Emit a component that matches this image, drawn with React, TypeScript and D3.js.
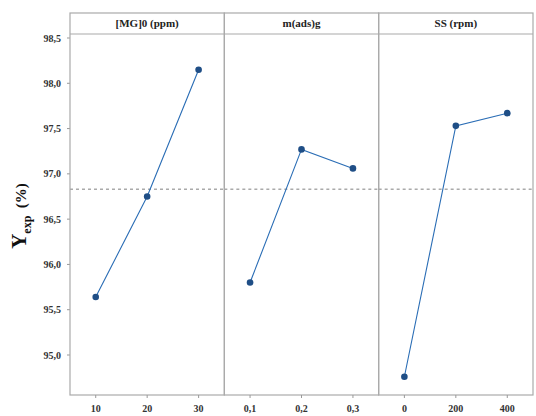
import React from "react";
import * as d3 from "d3";

const factorLabels = ["[MG]0 (ppm)", "m(ads)g", "SS (rpm)"];
const levelLabels = [
  ["10", "20", "30"],
  ["0,1", "0,2", "0,3"],
  ["0", "200", "400"],
];
const meanValues = [
  [95.64, 96.75, 98.15],
  [95.8, 97.27, 97.06],
  [94.76, 97.53, 97.67],
];
const grandMean = 96.83;
const yTicks = [95.0, 95.5, 96.0, 96.5, 97.0, 97.5, 98.0, 98.5];

const W = 536;
const H = 416;
const left = 70;
const right = 533;
const top = 13;
const stripH = 21;
const bottom = 395;

export default function App() {
  const y = d3.scaleLinear().domain([95.0, 98.5]).range([355, 38]);
  const panelW = (right - left) / factorLabels.length;
  const fmt = (v: number) => v.toFixed(1).replace(".", ",");
  const line = d3.line<[number, number]>().x((d) => d[0]).y((d) => d[1]);
  const serif = "'Liberation Serif', 'Times New Roman', 'DejaVu Serif', serif";

  return (
    <svg width={W} height={H} style={{ position: "absolute", left: 0, top: 0, background: "#fff" }}>
      <rect x={0} y={0} width={W} height={H} fill="#fff" />
      {yTicks.map((t) => (
        <g key={t}>
          <line x1={left - 3} x2={left} y1={y(t)} y2={y(t)} stroke="#999" />
          <text x={left - 9} y={y(t)} dy="0.35em" textAnchor="end" fontFamily={serif} fontWeight="bold" fontSize={10} fill="#333">
            {fmt(t)}
          </text>
        </g>
      ))}
      <text transform={`translate(26,216) rotate(-90)`} textAnchor="middle" fontFamily={serif} fontWeight="bold" fill="#111">
        <tspan fontSize={21}>Y</tspan>
        <tspan fontSize={12} dy={5}>exp</tspan>
        <tspan fontSize={15} dy={-5}>{"\u00a0\u00a0(%)"}</tspan>
      </text>
      {factorLabels.map((lab, i) => {
        const x0 = left + i * panelW;
        const x = d3.scalePoint<string>().domain(levelLabels[i]).range([x0, x0 + panelW]).padding(0.5);
        const pts: [number, number][] = levelLabels[i].map((l, j) => [x(l) as number, y(meanValues[i][j])]);
        return (
          <g key={lab}>
            <rect x={x0} y={top} width={panelW} height={bottom - top} fill="none" stroke="#aaa" strokeWidth={1.2} />
            <line x1={x0} x2={x0 + panelW} y1={top + stripH} y2={top + stripH} stroke="#aaa" strokeWidth={1.2} />
            <text x={x0 + panelW / 2} y={top + stripH / 2} dy="0.35em" textAnchor="middle" fontFamily={serif} fontWeight="bold" fontSize={11} fill="#222">
              {lab}
            </text>
            <line x1={x0} x2={x0 + panelW} y1={y(grandMean)} y2={y(grandMean)} stroke="#aaa" strokeWidth={1.5} strokeDasharray="3,3" />
            <path d={line(pts) || ""} fill="none" stroke="#2a6db5" strokeWidth={1.1} />
            {pts.map((p, j) => (
              <circle key={j} cx={p[0]} cy={p[1]} r={3.3} fill="#1f4e86" />
            ))}
            {levelLabels[i].map((l) => (
              <g key={l}>
                <line x1={x(l)} x2={x(l)} y1={bottom} y2={bottom + 3} stroke="#999" />
                <text x={x(l)} y={bottom + 17} textAnchor="middle" fontFamily={serif} fontWeight="bold" fontSize={10} fill="#333">
                  {l}
                </text>
              </g>
            ))}
          </g>
        );
      })}
    </svg>
  );
}
